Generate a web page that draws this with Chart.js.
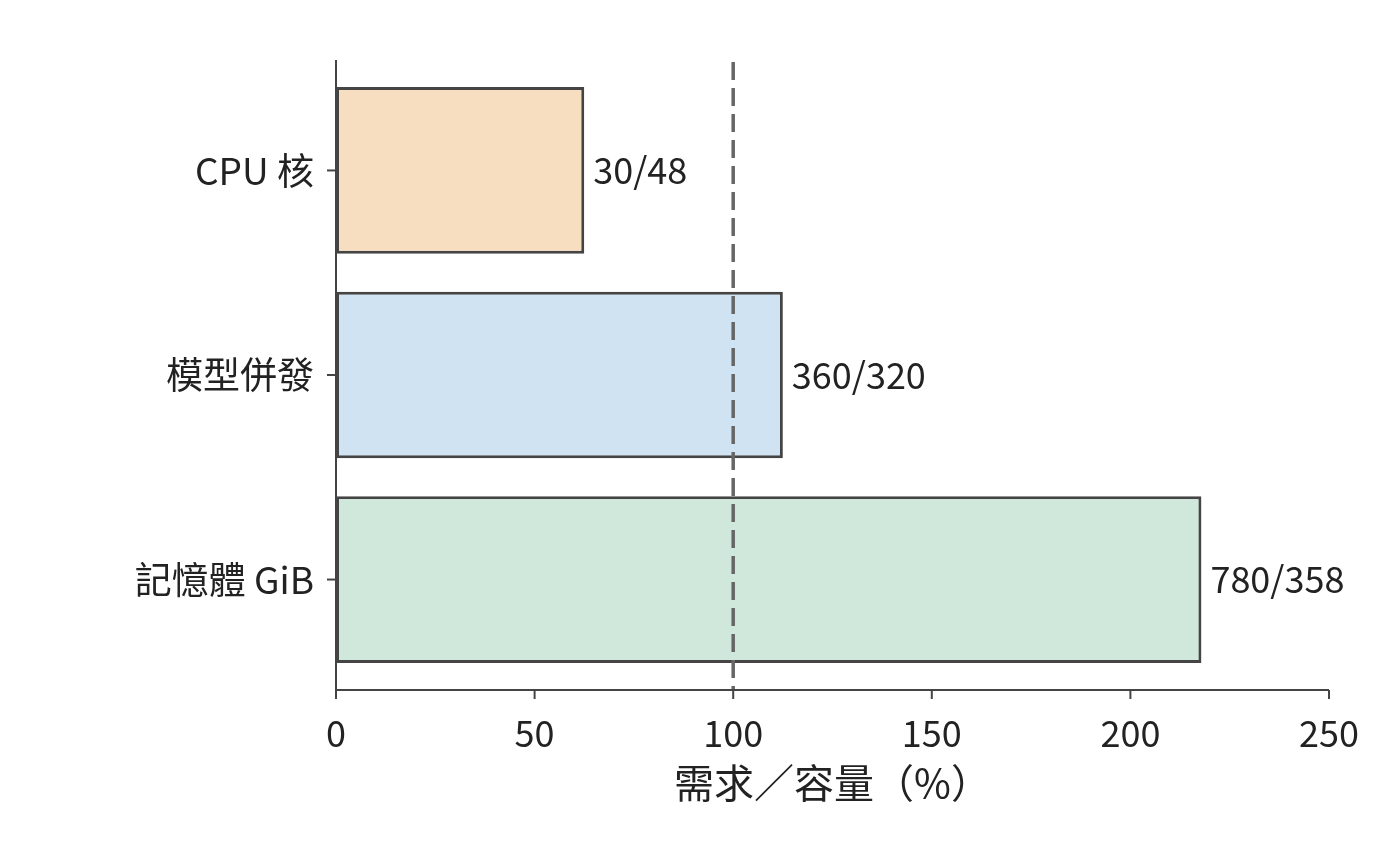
<!DOCTYPE html>
<html>
<head>
<meta charset="utf-8">
<script src="https://cdn.jsdelivr.net/npm/chart.js@4.4.0/dist/chart.umd.min.js"></script>
<style>
  html, body { margin: 0; padding: 0; background: #fff; }
  #wrap { width: 1400px; height: 864px; }
</style>
</head>
<body>
<div id="wrap"><canvas id="chart" width="1400" height="864"></canvas></div>
<script>
// datos
var categories = ["CPU 核", "模型併發", "記憶體 GiB"];
var demand = [30, 360, 780];
var capacity = [48, 320, 358];
var barColors = ["#f8dec0", "#cfe3f3", "#d0e8dc"];
var xTicks = [0, 50, 100, 150, 200, 250];
var refLine = 100;

var FONT = "'Noto Sans CJK TC', 'Noto Sans', sans-serif";

var points = categories.map(function (c, i) {
    return { x: demand[i] / capacity[i] * 100, y: i };
});

// spines, linea de referencia y etiquetas
var extras = {
    id: 'extras',
    afterDatasetsDraw: function (chart) {
        var ctx = chart.ctx;
        var a = chart.chartArea;
        var xs = chart.scales.x, ys = chart.scales.y;
        ctx.save();
        // linea 100%
        ctx.strokeStyle = '#666666';
        ctx.lineWidth = 3.5;
        ctx.setLineDash([18, 8]);
        var px = xs.getPixelForValue(refLine);
        ctx.beginPath();
        ctx.moveTo(px, a.top + 2);
        ctx.lineTo(px, a.bottom);
        ctx.stroke();
        ctx.setLineDash([]);
        // spines
        ctx.strokeStyle = '#444444';
        ctx.lineWidth = 2;
        ctx.beginPath();
        ctx.moveTo(a.left, a.top);
        ctx.lineTo(a.left, a.bottom);
        ctx.lineTo(a.right, a.bottom);
        ctx.stroke();
        // ticks x
        xTicks.forEach(function (v) {
            var x = xs.getPixelForValue(v);
            ctx.beginPath();
            ctx.moveTo(x, a.bottom);
            ctx.lineTo(x, a.bottom + 9);
            ctx.stroke();
        });
        // ticks y
        points.forEach(function (p) {
            var y = ys.getPixelForValue(p.y);
            ctx.beginPath();
            ctx.moveTo(a.left, y);
            ctx.lineTo(a.left - 9, y);
            ctx.stroke();
        });
        // etiquetas de valor
        ctx.fillStyle = '#222222';
        ctx.font = '36px ' + FONT;
        ctx.textAlign = 'left';
        ctx.textBaseline = 'middle';
        points.forEach(function (p, i) {
            ctx.fillText(demand[i] + '/' + capacity[i], xs.getPixelForValue(p.x) + 9, ys.getPixelForValue(p.y));
        });
        ctx.restore();
    }
};

new Chart(document.getElementById('chart').getContext('2d'), {
    type: 'bar',
    data: {
        datasets: [{
            data: points,
            backgroundColor: barColors,
            borderColor: '#444444',
            borderWidth: 3,
            borderSkipped: false,
            barPercentage: 0.815,
            categoryPercentage: 1.0
        }]
    },
    options: {
        indexAxis: 'y',
        responsive: false,
        animation: false,
        layout: { padding: { top: 60, right: 71, left: 0, bottom: 57 } },
        plugins: { legend: { display: false }, tooltip: { enabled: false } },
        scales: {
            x: {
                type: 'linear',
                min: 0, max: 250,
                afterBuildTicks: function (s) { s.ticks = xTicks.map(function (v) { return { value: v }; }); },
                afterFit: function (s) { s.height = 807 - 690; },
                grid: { display: false, drawTicks: false },
                border: { display: false },
                ticks: { color: '#222222', font: { family: FONT, size: 36 }, padding: 22 },
                title: { display: true, text: '需求／容量（%）', color: '#222222', font: { family: FONT, size: 40 }, padding: { top: 0, bottom: 0 } }
            },
            y: {
                type: 'linear',
                reverse: true,
                offset: false,
                min: -0.54, max: 2.54,
                afterBuildTicks: function (s) { s.ticks = categories.map(function (c, i) { return { value: i }; }); },
                afterFit: function (s) { s.width = 336; },
                grid: { display: false, drawTicks: false },
                border: { display: false },
                ticks: {
                    color: '#222222', font: { family: FONT, size: 37 }, padding: 22,
                    callback: function (v) { return categories[v]; }
                }
            }
        }
    },
    plugins: [extras]
});
</script>
</body>
</html>
